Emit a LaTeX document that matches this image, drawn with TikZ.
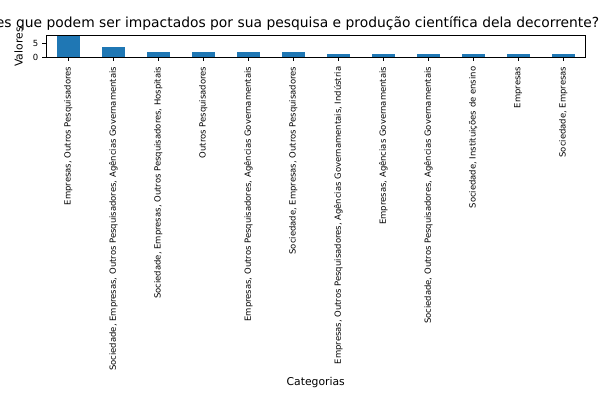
\documentclass[tikz,border=0pt]{standalone}
\usepackage{fontspec}
\setmainfont{DejaVu Sans}
\definecolor{barblue}{HTML}{1F77B4}

\begin{document}
\begin{tikzpicture}[x=0.75pt,y=-0.75pt,
  axisline/.style={line width=0.65pt, black},
  xlbl/.style={rotate=90, anchor=east, inner sep=0pt, font=\fontsize{6.35}{7}\selectfont},
  ylbl/.style={anchor=east, inner sep=0pt, font=\fontsize{6.35}{7}\selectfont},
  axlbl/.style={inner sep=0pt, font=\fontsize{8.1}{9}\selectfont}]

\def \base {57}     % y of the zero line
\def \unit {2.619}  % pixels per count
\def \gap {45}      % distance between bars
\def \half {11.25}  % half a bar

\useasboundingbox (0,0) rectangle (600,400);

\node[anchor=base east, inner sep=0pt, font=\fontsize{10.4}{12}\selectfont] (title) at (599.5,27)
  {es que podem ser impactados por sua pesquisa e produção científica dela decorrente?};

\foreach \v/\lab [count=\i from 0] in {
  8/{Empresas, Outros Pesquisadores},
  4/{Sociedade, Empresas, Outros Pesquisadores, Agências Governamentais},
  2/{Sociedade, Empresas, Outros Pesquisadores, Hospitais},
  2/{Outros Pesquisadores},
  2/{Empresas, Outros Pesquisadores, Agências Governamentais},
  2/{Sociedade, Empresas, Outros Pesquisadores},
  1/{Empresas, Outros Pesquisadores, Agências Governamentais, Indústria},
  1/{Empresas, Agências Governamentais},
  1/{Sociedade, Outros Pesquisadores, Agências Governamentais},
  1/{Sociedade, Instituições de ensino},
  1/{Empresas},
  1/{Sociedade, Empresas}}
{
    \pgfmathsetmacro{\xc}{68.25+\gap*\i}
    \fill[barblue] (\xc-\half,\base) rectangle (\xc+\half,\base-\v*\unit);
    \draw[axisline] (\xc,\base) -- (\xc,\base+4);
    \node[xlbl] (c\i) at (\xc,66.5) {\lab};
}

% frame of the axes
\draw[axisline] (46,35) rectangle (585.5,\base);

\foreach \t in {0,5}
{
    \draw[axisline] (46,\base-\t*\unit) -- (42,\base-\t*\unit);
    \node[ylbl] (y\t) at (38.5,\base-\t*\unit) {\t};
}

\node[axlbl, rotate=90] (ylab) at (18.5,47) {Valores};
\node[axlbl, anchor=base] (xlab) at (315.75,385) {Categorias};
\end{tikzpicture}
\end{document}
